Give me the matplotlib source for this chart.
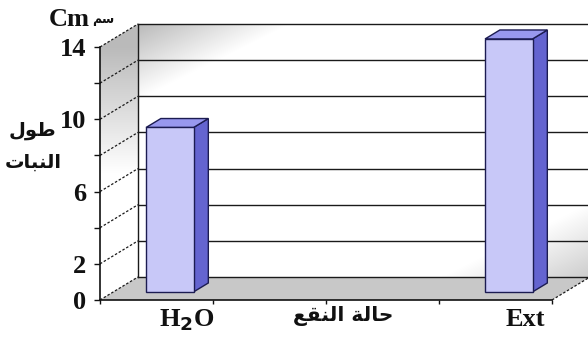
import numpy as np
import matplotlib
matplotlib.use("Agg")
import matplotlib.pyplot as plt
from matplotlib.patches import Polygon
from matplotlib.transforms import Affine2D, offset_copy

# ---- data -------------------------------------------------------------
categories = ["H$_\\mathbf{2}$O", "Ext"]
plant_length = [9.1, 14.0]
y_ticks = [0, 2, 4, 6, 8, 10, 12, 14]
y_tick_labels = ["0", "2", "", "6", "", "10", "", "14"]
y_title_lines = ["طول", "النبات"]
unit_en = "Cm"
unit_ar = "سم"
x_title = "حالة النقع"

# ---- layout -----------------------------------------------------------
N_SLOTS = 4            # category slots along the floor
SLOT_OF = [0, 3]       # slot used by each category
Y_MAX = 14
DX, DY = 0.336, 1.273  # depth of the box (x in slots, y in value units)
BAR_W = 0.42
F0, F1 = 0.35, 0.74    # bar front / back depth fractions

FRONT = "#c8c8f8"
SIDE = "#6464d0"
TOP = "#9898ee"
EDGE = "#1c1c52"
FLOOR = "#c8c8c8"

# ---- minimal Arabic shaping (contextual forms + visual order) ---------
FORMS = {
    "ا": ("\uFE8D", "\uFE8E", None, None),
    "ب": ("\uFE8F", "\uFE90", "\uFE91", "\uFE92"),
    "ت": ("\uFE95", "\uFE96", "\uFE97", "\uFE98"),
    "ة": ("\uFE93", "\uFE94", None, None),
    "ح": ("\uFEA1", "\uFEA2", "\uFEA3", "\uFEA4"),
    "س": ("\uFEB1", "\uFEB2", "\uFEB3", "\uFEB4"),
    "ط": ("\uFEC1", "\uFEC2", "\uFEC3", "\uFEC4"),
    "ع": ("\uFEC9", "\uFECA", "\uFECB", "\uFECC"),
    "ق": ("\uFED5", "\uFED6", "\uFED7", "\uFED8"),
    "ل": ("\uFEDD", "\uFEDE", "\uFEDF", "\uFEE0"),
    "م": ("\uFEE1", "\uFEE2", "\uFEE3", "\uFEE4"),
    "ن": ("\uFEE5", "\uFEE6", "\uFEE7", "\uFEE8"),
    "و": ("\uFEED", "\uFEEE", None, None),
}


def shape(text):
    out = []
    for i, ch in enumerate(text):
        if ch not in FORMS:
            out.append(ch)
            continue
        prev = text[i - 1] if i > 0 else ""
        nxt = text[i + 1] if i + 1 < len(text) else ""
        iso, fin, ini, med = FORMS[ch]
        jp = prev in FORMS and FORMS[prev][2] is not None
        jn = nxt in FORMS and ini is not None
        if jp and jn:
            out.append(med)
        elif jp:
            out.append(fin)
        elif jn:
            out.append(ini)
        else:
            out.append(iso)
    return "".join(reversed(out))


SERIF = dict(family="Liberation Serif", weight="bold")
ARABIC = dict(family="DejaVu Sans", weight="bold")

fig = plt.figure(figsize=(5.88, 3.44), dpi=100)
W, H = 588, 344
ax = fig.add_axes([100 / W, 44 / H, 452 / W, 253 / H])
px = Affine2D().scale(1 / W, -1 / H).translate(0, 1) + fig.transFigure

# back wall with diagonal grey shading
ny, nx = 254, 450
rows, cols = np.mgrid[0:ny, 0:nx]
s1 = cols + 2.0 * rows
s2 = (nx - cols) + 2.0 * (ny - rows)
shade = 1 - 0.27 * np.clip(1 - s1 / 150, 0, 1) - 0.2 * np.clip(1 - s2 / 150, 0, 1)
ax.imshow(np.dstack([shade] * 3), extent=(DX, N_SLOTS + DX, DY, Y_MAX + DY),
          origin="upper", aspect="auto", zorder=0, clip_on=False,
          interpolation="bilinear")

# left side wall, grey at the top fading to white, clipped to its outline
v = np.linspace(Y_MAX + DY, 0, 220)[:, None]
side = np.repeat(1 - 0.27 * np.clip((v - 7) / 7, 0, 1), 2, axis=1)
side_im = ax.imshow(np.dstack([side] * 3), extent=(0, DX, 0, Y_MAX + DY),
                    origin="upper", aspect="auto", zorder=0,
                    interpolation="bilinear")
side_outline = Polygon([(0, 0), (DX, DY), (DX, Y_MAX + DY), (0, Y_MAX)],
                       closed=True, transform=ax.transData)
side_im.set_clip_path(side_outline)
side_im.set_clip_box(fig.bbox)
side_im.set_clip_on(True)

# floor
ax.add_patch(Polygon([(0, 0), (N_SLOTS, 0), (N_SLOTS + DX, DY), (DX, DY)],
                     closed=True, facecolor=FLOOR, edgecolor="none",
                     zorder=0.5, clip_on=False))

# gridlines on the back wall and dashed depth lines on the side wall
for t in y_ticks:
    ax.plot([DX, N_SLOTS + DX], [t + DY, t + DY], color="#1a1a1a", lw=1.0,
            zorder=1, clip_on=False)
    ax.plot([0, DX], [t, t + DY], color="#1a1a1a", lw=0.9, ls=(0, (2, 1.5)),
            zorder=1, clip_on=False)
ax.plot([DX, DX], [DY, Y_MAX + DY], color="#1a1a1a", lw=1.0, zorder=1,
        clip_on=False)
ax.plot([N_SLOTS, N_SLOTS + DX], [0, DY], color="#1a1a1a", lw=0.9,
        ls=(0, (2, 1.5)), zorder=1, clip_on=False)

# 3-D bars
for slot, val in zip(SLOT_OF, plant_length):
    xl = slot + 0.5 - BAR_W / 2
    xr = slot + 0.5 + BAR_W / 2
    o0 = (F0 * DX, F0 * DY)
    o1 = (F1 * DX, F1 * DY)
    right = [(xr + o0[0], o0[1]), (xr + o0[0], val + o0[1]),
             (xr + o1[0], val + o1[1]), (xr + o1[0], o1[1])]
    top = [(xl + o0[0], val + o0[1]), (xr + o0[0], val + o0[1]),
           (xr + o1[0], val + o1[1]), (xl + o1[0], val + o1[1])]
    front = [(xl + o0[0], o0[1]), (xr + o0[0], o0[1]),
             (xr + o0[0], val + o0[1]), (xl + o0[0], val + o0[1])]
    for pts, fc in ((right, SIDE), (top, TOP), (front, FRONT)):
        ax.add_patch(Polygon(pts, closed=True, facecolor=fc, edgecolor=EDGE,
                             lw=1.0, zorder=3, clip_on=False))

# axes frame
ax.set_xlim(0, N_SLOTS)
ax.set_ylim(0, Y_MAX)
ax.patch.set_visible(False)
for s in ("top", "right"):
    ax.spines[s].set_visible(False)
for s in ("left", "bottom"):
    ax.spines[s].set_color("#111111")
    ax.spines[s].set_linewidth(1.2)
    ax.spines[s].set_zorder(6)
ax.set_yticks(y_ticks)
ax.set_yticklabels(y_tick_labels, fontsize=19, **SERIF)
ax.set_xticks(range(N_SLOTS + 1))
ax.set_xticklabels([])
ax.tick_params(axis="y", length=4, width=1, pad=6, colors="#111111")
ax.tick_params(axis="x", length=3, width=1, colors="#111111")

# category labels
lab_tr = offset_copy(ax.transData, fig=fig, x=30, y=-20, units="dots")
for slot, name in zip(SLOT_OF, categories):
    ax.text(slot + 0.5, 0, name, transform=lab_tr, ha="center", va="center",
            fontsize=19, color="#111111", **SERIF)

# titles
fig.text(343, 316, shape(x_title), transform=px, ha="center", va="center",
         fontsize=14.5, color="#111111", **ARABIC)
fig.text(33, 131, shape(y_title_lines[0]), transform=px, ha="center",
         va="center", fontsize=14, color="#111111", **ARABIC)
fig.text(33, 162, shape(y_title_lines[1]), transform=px, ha="center",
         va="center", fontsize=14, color="#111111", **ARABIC)
fig.text(90, 19, unit_en, transform=px, ha="right", va="center",
         fontsize=19, color="#111111", **SERIF)
fig.text(92, 20, shape(unit_ar), transform=px, ha="left", va="center",
         fontsize=9, color="#111111", **ARABIC)

fig.savefig("out.png", dpi=100)
